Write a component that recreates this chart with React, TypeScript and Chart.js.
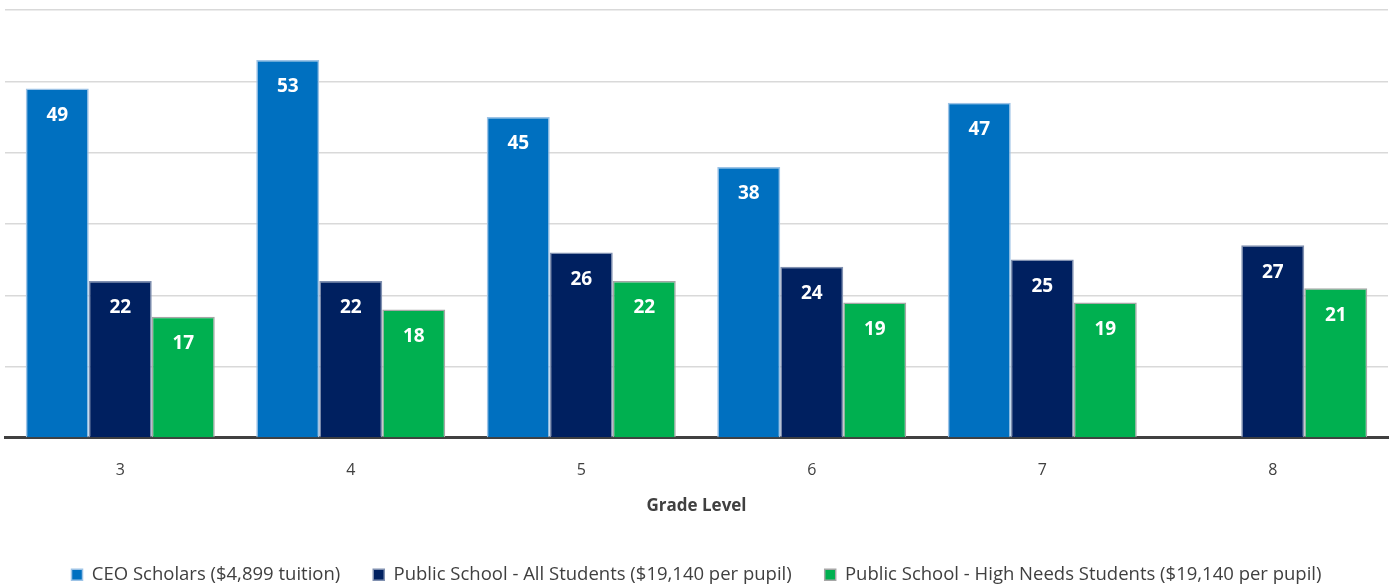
import React, { useEffect, useRef } from "react";
import { Chart, registerables } from "chart.js";

Chart.register(...registerables);

const categories = ["3", "4", "5", "6", "7", "8"];
const ceoScholars: (number | null)[] = [49, 53, 45, 38, 47, null];
const publicAll = [22, 22, 26, 24, 25, 27];
const publicHighNeeds = [17, 18, 22, 19, 19, 21];
const seriesLabels = [
  "CEO Scholars ($4,899 tuition)",
  "Public School - All Students ($19,140 per pupil)",
  "Public School - High Needs Students ($19,140 per pupil)",
];
const xTitle = "Grade Level";

const FONT = "'Open Sans', 'DejaVu Sans', sans-serif";

const valueLabels = {
  id: "valueLabels",
  afterDatasetsDraw(chart: any) {
    const ctx = chart.ctx;
    ctx.save();
    ctx.fillStyle = "#ffffff";
    ctx.font = `bold 19px ${FONT}`;
    ctx.textAlign = "center";
    ctx.textBaseline = "middle";
    chart.data.datasets.forEach((ds: any, i: number) => {
      const meta = chart.getDatasetMeta(i);
      meta.data.forEach((bar: any, j: number) => {
        const v = ds.data[j];
        if (v === null || v === undefined) return;
        ctx.fillText(String(v), bar.x, bar.y + 27);
      });
    });
    ctx.restore();
  },
};

export default function App() {
  const ref = useRef<HTMLCanvasElement | null>(null);
  useEffect(() => {
    document.body.style.margin = "0";
    if (!ref.current) return;
    const chart = new Chart(ref.current, {
      type: "bar",
      data: {
        labels: categories,
        datasets: [
          {
            label: seriesLabels[0],
            data: ceoScholars,
            backgroundColor: "#0070C0",
            borderColor: "#9DC3E6",
            borderWidth: 1.5,
          },
          {
            label: seriesLabels[1],
            data: publicAll,
            backgroundColor: "#002060",
            borderColor: "#8090B0",
            borderWidth: 1.5,
          },
          {
            label: seriesLabels[2],
            data: publicHighNeeds,
            backgroundColor: "#00B050",
            borderColor: "#A6A6A6",
            borderWidth: 1.5,
          },
        ],
      },
      options: {
        responsive: false,
        animation: false,
        maintainAspectRatio: false,
        layout: { padding: { left: 5, right: 7, top: 10, bottom: -9 } },
        datasets: { bar: { categoryPercentage: 0.82, barPercentage: 1 } },
        scales: {
          x: {
            grid: { display: false },
            border: { display: true, color: "#404040", width: 3 },
            ticks: { color: "#404040", font: { family: FONT, size: 16 }, padding: 15 },
            title: {
              display: true,
              text: xTitle,
              color: "#404040",
              font: { family: FONT, size: 17, weight: "bold" },
              padding: { top: 1, bottom: 16 },
            },
          },
          y: {
            min: 0,
            max: 60,
            ticks: { display: false, stepSize: 10 },
            grid: { color: "#D9D9D9", lineWidth: 1.5, drawTicks: false },
            border: { display: false },
          },
        },
        plugins: {
          legend: {
            position: "bottom",
            labels: {
              color: "#404040",
              font: { family: FONT, size: 18.5 },
              boxWidth: 11,
              boxHeight: 11,
              padding: 33,
            },
          },
          tooltip: { enabled: false },
        },
      },
      plugins: [valueLabels],
    });
    return () => chart.destroy();
  }, []);
  return (
    <div style={{ width: 1395, height: 585 }}>
      <canvas ref={ref} width={1395} height={585} style={{ display: "block" }} />
    </div>
  );
}
